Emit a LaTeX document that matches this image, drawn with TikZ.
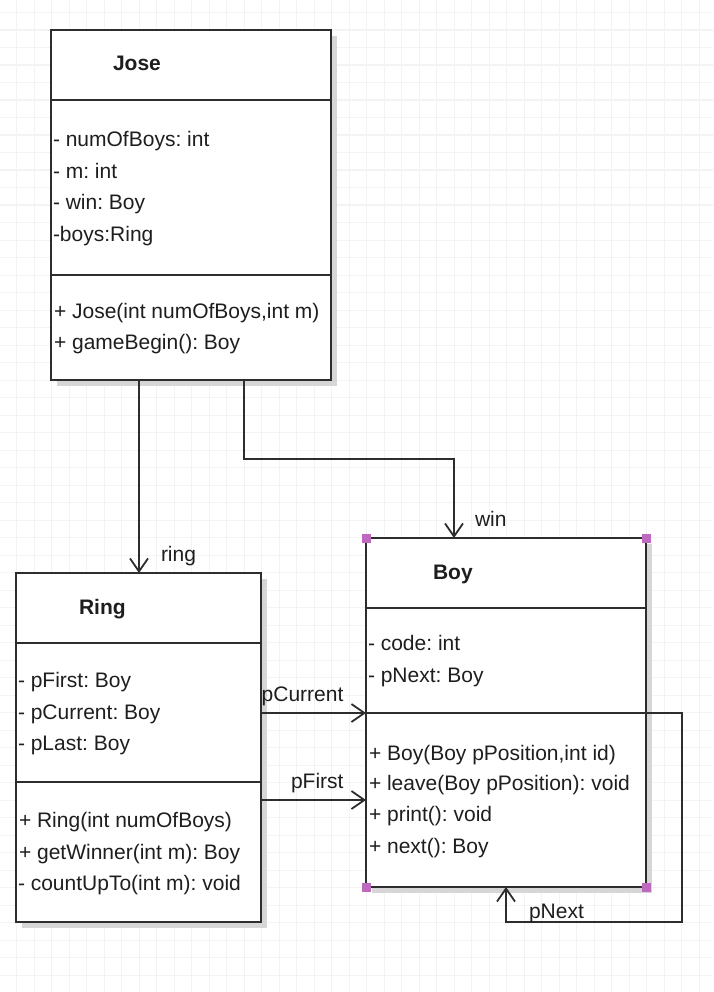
\documentclass[tikz,border=0pt]{standalone}
\usepackage{fontspec}
\setmainfont{Liberation Sans}
\frenchspacing
\usetikzlibrary{arrows.meta,shadows}
\definecolor{gridc}{RGB}{243,243,243}
\definecolor{borderc}{RGB}{45,45,45}
\definecolor{shadowc}{RGB}{214,214,214}
\definecolor{handlec}{RGB}{190,104,192}
\definecolor{textc}{RGB}{30,30,30}
\tikzset{
  gridline/.style={draw=gridc, line width=1.4pt},
  umlbox/.style={draw=borderc, fill=white, line width=2pt, rectangle, inner sep=0pt, outer sep=0pt,
     drop shadow={shadow xshift=6pt, shadow yshift=-6pt, fill=shadowc, opacity=1}},
  divider/.style={draw=borderc, line width=2pt},
  txt/.style={anchor=base west, inner sep=0pt, outer sep=0pt, text=textc, font=\fontsize{21}{25}\selectfont},
  ttl/.style={txt, font=\fontsize{21}{25}\selectfont\bfseries},
  conn/.style={draw=borderc, line width=1.8pt, -{Straight Barb[length=13pt,width=18pt,line width=1.8pt]}},
  handle/.style={fill=handlec},
}
\begin{document}
\begin{tikzpicture}[x=1pt,y=-1pt]
\useasboundingbox (0,0) rectangle (713,992);
\fill[white] (0,0) rectangle (713,992);
% grid
\foreach \i in {0,...,41} \draw[gridline] ({-0.8+17.5*\i},0) -- ({-0.8+17.5*\i},992);
\foreach \j in {0,...,57} \draw[gridline] (0,{-4.8+17.5*\j}) -- (713,{-4.8+17.5*\j});

% boxes
\node[umlbox, minimum width=280pt, minimum height=350pt, anchor=north west] (jose) at (51,30) {};
\node[umlbox, minimum width=245pt, minimum height=349pt, anchor=north west] (ring) at (16,573) {};
\node[umlbox, minimum width=280pt, minimum height=349pt, anchor=north west] (boy) at (366,538) {};

% dividers
\draw[divider] ([yshift=-70pt]jose.north west) -- ([yshift=-70pt]jose.north east);
\draw[divider] ([yshift=-245pt]jose.north west) -- ([yshift=-245pt]jose.north east);
\draw[divider] ([yshift=-70pt]ring.north west) -- ([yshift=-70pt]ring.north east);
\draw[divider] ([yshift=-209pt]ring.north west) -- ([yshift=-209pt]ring.north east);
\draw[divider] ([yshift=-70pt]boy.north west) -- ([yshift=-70pt]boy.north east);
\draw[divider] ([yshift=-175pt]boy.north west) -- ([yshift=-175pt]boy.north east);

% Jose text
\node[ttl] (joset) at (113,71) {Jose};
\node[txt] (ja1) at (53,146.7) {- numOfBoys: int};
\node[txt] (ja2) at (53,178.2) {- m: int};
\node[txt] (ja3) at (53,209.7) {- win: Boy};
\node[txt] (ja4) at (53,241.2) {-boys:Ring};
\node[txt] (jm1) at (54,318) {+ Jose(int numOfBoys,int m)};
\node[txt] (jm2) at (54,349.5) {+ gameBegin(): Boy};

% Ring text
\node[ttl] (ringt) at (79,614) {Ring};
\node[txt] (ra1) at (18,687.3) {- pFirst: Boy};
\node[txt] (ra2) at (18,719) {- pCurrent: Boy};
\node[txt] (ra3) at (18,750.7) {- pLast: Boy};
\node[txt] (rm1) at (19,827.3) {+ Ring(int numOfBoys)};
\node[txt] (rm2) at (19,859) {+ getWinner(int m): Boy};
\node[txt] (rm3) at (18,890.5) {- countUpTo(int m): void};

% Boy text
\node[ttl] (boyt) at (433,579) {Boy};
\node[txt] (ba1) at (368,650.7) {- code: int};
\node[txt] (ba2) at (368,682.3) {- pNext: Boy};
\node[txt] (bm1) at (369,760) {+ Boy(Boy pPosition,int id)};
\node[txt] (bm2) at (369,790.7) {+ leave(Boy pPosition): void};
\node[txt] (bm3) at (369,821.7) {+ print(): void};
\node[txt] (bm4) at (369,853.3) {+ next(): Boy};

% connectors
\draw[conn] ([xshift=88pt]jose.south west) -- ([xshift=123pt]ring.north west);
\draw[conn] ([xshift=193pt]jose.south west) |- ([xshift=88pt,yshift=79pt]boy.north west) -- ([xshift=88pt]boy.north west);
\draw[conn] ([yshift=-140pt]ring.north east) -- ([yshift=-140pt]ring.north east -| boy.west);
\draw[conn] ([yshift=-227pt]ring.north east) -- ([yshift=-227pt]ring.north east -| boy.west);
\draw[conn] ([yshift=-175pt]boy.north east) -- ++(36,0) -- ++(0,209) -| ([xshift=140pt]boy.south west);

% connector labels
\node[txt] (lring) at (161,561.5) {ring};
\node[txt] (lwin) at (475,526.7) {win};
\node[txt] (lcur) at (261.7,701.7) {pCurrent};
\node[txt] (lfirst) at (291,788.3) {pFirst};
\node[txt] (lnext) at (529,918.3) {pNext};

% selection handles
\foreach \c in {north west, north east, south west, south east}
  \fill[handle] ([shift={(-4.5pt,-4.5pt)}]boy.\c) rectangle ([shift={(4.5pt,4.5pt)}]boy.\c);
\end{tikzpicture}
\end{document}
